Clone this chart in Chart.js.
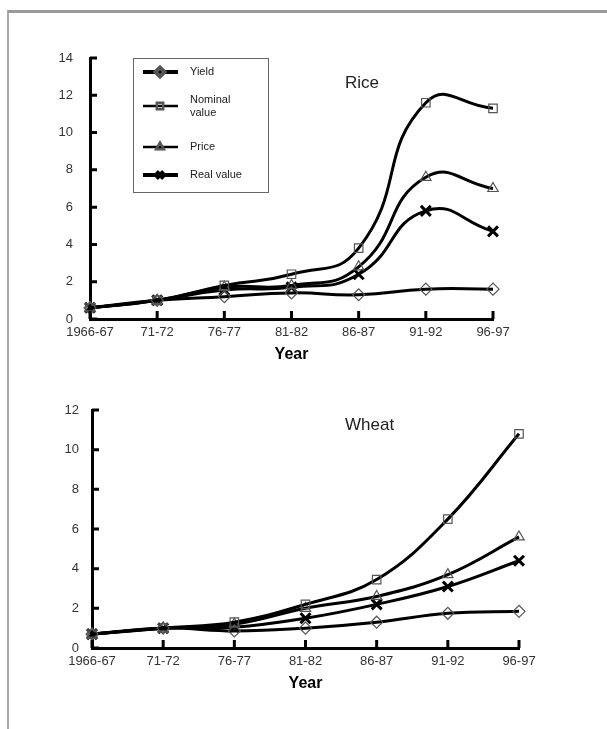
<!DOCTYPE html>
<html>
<head>
<meta charset="utf-8">
<script src="https://cdn.jsdelivr.net/npm/chart.js@4.4.1/dist/chart.umd.min.js"></script>
<style>
  html, body { margin: 0; padding: 0; background: #fff; }
  body { width: 607px; height: 729px; position: relative; overflow: hidden; }
  #frame { position: absolute; left: 7px; top: 10px; width: 610px; height: 730px;
           border-top: 3px solid #9a9a9a; border-left: 2px solid #a8a8a8; }
  .wrap { position: absolute; left: 0; width: 607px; }
  #riceWrap { top: 0; height: 370px; }
  #wheatWrap { top: 370px; height: 359px; }
</style>
</head>
<body>
<div id="frame"></div>
<div class="wrap" id="riceWrap"><canvas id="rice"></canvas></div>
<div class="wrap" id="wheatWrap"><canvas id="wheat"></canvas></div>
<script>
// Index values by period
const years = ['1966-67', '71-72', '76-77', '81-82', '86-87', '91-92', '96-97'];

const riceYield   = [0.6, 1.0, 1.2, 1.4, 1.3, 1.6, 1.6];
const riceNominal = [0.6, 1.0, 1.8, 2.4, 3.8, 11.6, 11.3];
const ricePrice   = [0.6, 1.0, 1.7, 1.8, 2.8, 7.6, 7.0];
const riceReal    = [0.6, 1.0, 1.55, 1.7, 2.4, 5.8, 4.7];

const wheatYield   = [0.7, 1.0, 0.86, 1.0, 1.3, 1.75, 1.85];
const wheatNominal = [0.7, 1.0, 1.3, 2.2, 3.45, 6.5, 10.8];
const wheatPrice   = [0.7, 1.0, 1.2, 2.0, 2.6, 3.7, 5.6];
const wheatReal    = [0.7, 1.0, 1.05, 1.5, 2.2, 3.1, 4.4];

const seriesNames = ['Yield', 'Nominal value', 'Price', 'Real value'];
const riceTicks = [0, 2, 4, 6, 8, 10, 12, 14];
const wheatTicks = [0, 2, 4, 6, 8, 10, 12];

const FONT = "'Liberation Sans', Arial, sans-serif";

// marker look per series
const markers = [
    { pointStyle: 'rectRot', pointRadius: 6, pointBorderWidth: 1.2, pointBorderColor: '#555' },
    { pointStyle: 'rect', pointRadius: 6, pointBorderWidth: 1.2, pointBorderColor: '#555' },
    { pointStyle: 'triangle', pointRadius: 6, pointBorderWidth: 1.2, pointBorderColor: '#555' },
    { pointStyle: 'crossRot', pointRadius: 7, pointBorderWidth: 3, pointBorderColor: '#000' }
];

function makeDatasets(arrays, tension) {
    return arrays.map((values, i) => Object.assign({
        label: seriesNames[i],
        data: values,
        borderColor: '#000',
        borderWidth: 3,
        tension: tension,
        pointBackgroundColor: 'rgba(255,255,255,0)',
        pointHoverRadius: 5
    }, markers[i]));
}

// short tick marks pointing into the plot area
const innerTicks = {
    id: 'innerTicks',
    afterDatasetsDraw(chart) {
        const ctx = chart.ctx;
        const x = chart.scales.x, y = chart.scales.y;
        ctx.save();
        ctx.strokeStyle = '#000';
        ctx.lineWidth = 3;
        ctx.beginPath();
        y.ticks.forEach((t, i) => {
            const py = y.getPixelForTick(i);
            ctx.moveTo(y.right, py);
            ctx.lineTo(y.right + 7, py);
        });
        x.ticks.forEach((t, i) => {
            const px = x.getPixelForTick(i);
            ctx.moveTo(px, x.top);
            ctx.lineTo(px, x.top - 8);
        });
        ctx.stroke();
        ctx.restore();
    }
};

// crop name written inside the plot
const cropLabel = {
    id: 'cropLabel',
    afterDraw(chart, args, opts) {
        const ctx = chart.ctx;
        ctx.save();
        ctx.font = '17px ' + FONT;
        ctx.fillStyle = '#222';
        ctx.textBaseline = 'middle';
        ctx.fillText(opts.text, opts.x, opts.y);
        ctx.restore();
    }
};

// boxed legend in the upper left of the rice plot
const boxLegend = {
    id: 'boxLegend',
    afterDraw(chart, args, opts) {
        if (!opts.show) return;
        const ctx = chart.ctx;
        ctx.save();
        ctx.strokeStyle = '#666';
        ctx.lineWidth = 1;
        ctx.strokeRect(133.5, 58.5, 135, 134);
        const rows = [72, 106, 147, 175];
        chart.data.datasets.forEach((ds, i) => {
            const cy = rows[i];
            ctx.strokeStyle = '#000';
            ctx.lineWidth = i === 0 || i === 3 ? 4 : 2.5;
            ctx.beginPath();
            ctx.moveTo(143, cy);
            ctx.lineTo(178, cy);
            ctx.stroke();
            ctx.strokeStyle = ds.pointBorderColor;
            ctx.fillStyle = 'rgba(255,255,255,0)';
            Chart.helpers.drawPoint(ctx, {
                pointStyle: ds.pointStyle,
                radius: i === 3 ? 5 : 4.5,
                borderWidth: ds.pointBorderWidth,
                rotation: 0
            }, 160, cy);
            ctx.fillStyle = '#222';
            ctx.font = '11px ' + FONT;
            ctx.textBaseline = 'middle';
            if (i === 1) {
                ctx.fillText('Nominal', 190, cy - 6);
                ctx.fillText('value', 190, cy + 7);
            } else {
                ctx.fillText(ds.label, 190, cy);
            }
        });
        ctx.restore();
    }
};

function makeChart(id, arrays, ticks, cfg) {
    return new Chart(document.getElementById(id), {
        type: 'line',
        data: { labels: years, datasets: makeDatasets(arrays, cfg.tension) },
        options: {
            responsive: true,
            maintainAspectRatio: false,
            animation: false,
            events: [],
            layout: { padding: { top: cfg.top, right: cfg.right, bottom: cfg.bottom, left: 0 } },
            plugins: {
                legend: { display: false },
                tooltip: { enabled: false },
                cropLabel: { text: cfg.name, x: 345, y: cfg.nameY },
                boxLegend: { show: cfg.legend }
            },
            scales: {
                x: {
                    offset: false,
                    grid: { display: false, drawTicks: false },
                    border: { display: true, color: '#000', width: 3 },
                    ticks: { color: '#333', font: { family: FONT, size: 13 }, padding: 6, maxRotation: 0, autoSkip: false },
                    title: { display: true, text: 'Year', color: '#000', padding: 0,
                             font: { family: FONT, size: 16, weight: 'bold' } },
                    afterFit(scale) { scale.height = 45; }
                },
                y: {
                    min: ticks[0],
                    max: ticks[ticks.length - 1],
                    grid: { display: false, drawTicks: false },
                    border: { display: true, color: '#000', width: 3 },
                    afterBuildTicks(scale) { scale.ticks = ticks.map(v => ({ value: v })); },
                    ticks: { color: '#333', font: { family: FONT, size: 13 }, padding: cfg.yPad },
                    afterFit(scale) { scale.width = cfg.left; }
                }
            }
        },
        plugins: [innerTicks, cropLabel, boxLegend]
    });
}

makeChart('rice', [riceYield, riceNominal, ricePrice, riceReal], riceTicks,
    { name: 'Rice', nameY: 83, top: 58, right: 114, bottom: 6, left: 90, yPad: 17, legend: true, tension: 0.5 });

makeChart('wheat', [wheatYield, wheatNominal, wheatPrice, wheatReal], wheatTicks,
    { name: 'Wheat', nameY: 55, top: 40, right: 88, bottom: 36, left: 92, yPad: 13, legend: false, tension: 0.4 });
</script>
</body>
</html>
